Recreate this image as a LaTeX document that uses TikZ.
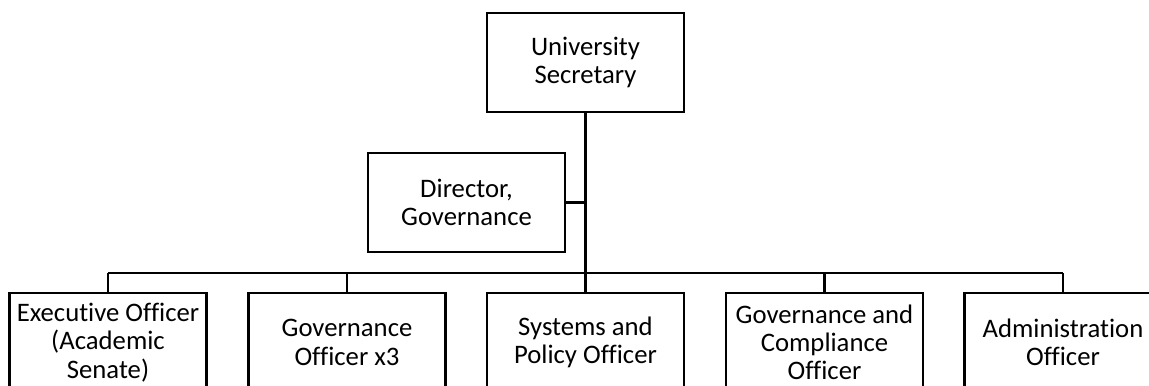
\documentclass[tikz,border=0pt]{standalone}
\usepackage{fontspec}
\setmainfont{Carlito}[Ligatures=NoCommon]
\usetikzlibrary{positioning}

\begin{document}
\begin{tikzpicture}[
		post/.style={draw, line width=1.6pt, minimum width=3.94cm, minimum height=1.98cm,
			align=center, inner sep=1pt, font=\fontsize{15.2pt}{16.1pt}\selectfont},
		link/.style={line width=1.6pt},
		trunk/.style={line width=1.9pt}]
		\useasboundingbox (0,0) rectangle (22.98,7.70);
		% Top of the office.
		\node[post] (sec) at (11.71,6.45) {University\\Secretary};
		\node[post] (dir) at (9.33,3.65) {Director,\\Governance};
		\coordinate (bar) at (11.71,2.24);
		% Officers on the bottom row.
		\node[post] (exec) at (2.16,0.85) {Executive Officer\\(Academic\\Senate)};
		\node[post] (gov) at (6.94,0.85) {Governance\\Officer x3};
		\node[post] (sys) at (11.71,0.85) {Systems and\\Policy Officer};
		\node[post] (comp) at (16.49,0.85) {Governance and\\Compliance\\Officer};
		\node[post] (admin) at (21.26,0.85) {Administration\\Officer};
		% Lines of report.
		\draw[trunk] (sec.south) -- (bar);
		\draw[link] (dir.east) -- (dir.east -| sec.south);
		\draw[link] (exec.north |- bar) -- (admin.north |- bar);
		\foreach \n in {exec,gov,sys,comp,admin}
			\draw[link] (\n.north) -- (\n.north |- bar);
	\end{tikzpicture}
\end{document}
